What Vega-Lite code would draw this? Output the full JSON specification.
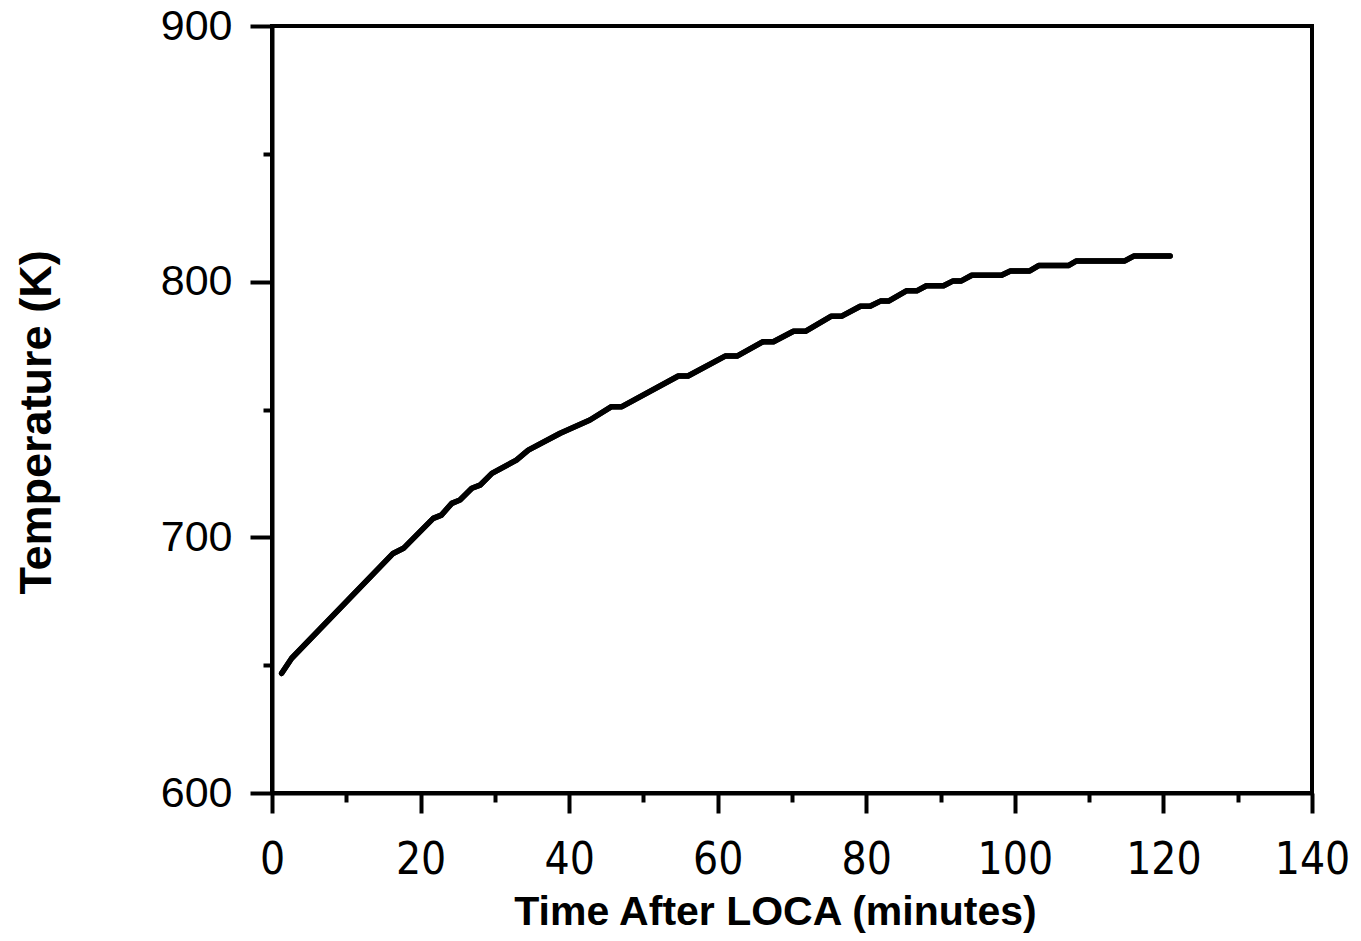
{
  "$schema": "https://vega.github.io/schema/vega-lite/v6.json",
  "autosize": "none",
  "width": 1040,
  "height": 767,
  "padding": {"left": 272, "top": 26, "right": 49, "bottom": 148},
  "background": "white",
  "config": {
    "view": {"stroke": "black", "strokeWidth": 4},
    "axis": {"grid": false, "domainColor": "black", "domainWidth": 4, "tickColor": "black", "tickWidth": 4, "labelColor": "black", "titleColor": "black"}
  },
  "data": {"values": [
    {"t": 1.3, "T": 646.8},
    {"t": 2.65, "T": 652.7},
    {"t": 16.3, "T": 693.7},
    {"t": 17.7, "T": 695.7},
    {"t": 21.7, "T": 707.4},
    {"t": 22.8, "T": 708.7},
    {"t": 24.2, "T": 713.3},
    {"t": 25.3, "T": 714.6},
    {"t": 26.9, "T": 719.2},
    {"t": 28.0, "T": 720.4},
    {"t": 29.6, "T": 725.0},
    {"t": 32.9, "T": 730.2},
    {"t": 34.5, "T": 734.1},
    {"t": 38.8, "T": 740.7},
    {"t": 42.8, "T": 745.9},
    {"t": 45.7, "T": 751.1},
    {"t": 47.1, "T": 751.1},
    {"t": 54.7, "T": 763.1},
    {"t": 56.0, "T": 763.1},
    {"t": 61.0, "T": 770.9},
    {"t": 62.6, "T": 770.9},
    {"t": 66.1, "T": 776.5},
    {"t": 67.5, "T": 776.5},
    {"t": 70.2, "T": 780.6},
    {"t": 71.8, "T": 780.6},
    {"t": 75.3, "T": 786.5},
    {"t": 76.7, "T": 786.5},
    {"t": 79.2, "T": 790.4},
    {"t": 80.5, "T": 790.4},
    {"t": 81.9, "T": 792.4},
    {"t": 83.0, "T": 792.4},
    {"t": 85.4, "T": 796.4},
    {"t": 86.8, "T": 796.4},
    {"t": 88.1, "T": 798.4},
    {"t": 90.4, "T": 798.4},
    {"t": 91.7, "T": 800.3},
    {"t": 92.8, "T": 800.3},
    {"t": 94.2, "T": 802.5},
    {"t": 98.2, "T": 802.5},
    {"t": 99.4, "T": 804.2},
    {"t": 102.0, "T": 804.2},
    {"t": 103.2, "T": 806.3},
    {"t": 107.2, "T": 806.3},
    {"t": 108.3, "T": 808.1},
    {"t": 114.8, "T": 808.1},
    {"t": 116.0, "T": 810.0},
    {"t": 120.9, "T": 810.0}
  ]},
  "resolve": {"axis": {"x": "independent", "y": "independent"}},
  "layer": [
    {
      "mark": {"type": "line", "color": "black", "strokeWidth": 5.5, "strokeJoin": "round", "strokeCap": "round"},
      "encoding": {
        "x": {"field": "t", "type": "quantitative", "scale": {"domain": [0, 140], "nice": false},
          "axis": {"orient": "bottom", "values": [0, 20, 40, 60, 80, 100, 120, 140], "tickSize": 20, "labelPadding": 25,
            "labelFont": "DejaVu Sans Condensed, Liberation Sans", "labelFontSize": 44, "labelBaseline": "top", "labelFlush": false,
            "title": "Time After LOCA (minutes)", "titleFont": "Liberation Sans", "titleFontSize": 41, "titleFontWeight": "bold", "titlePadding": 10, "titleX": 503}},
        "y": {"field": "T", "type": "quantitative", "scale": {"domain": [600, 900], "nice": false, "zero": false},
          "axis": {"orient": "left", "values": [600, 700, 800, 900], "tickSize": 22, "labelPadding": 18,
            "labelFont": "Liberation Sans", "labelFontSize": 43, "labelBaseline": "middle", "labelFlush": false,
            "title": "Temperature (K)", "titleFont": "Liberation Sans", "titleFontSize": 45, "titleFontWeight": "bold", "titlePadding": 101, "titleY": 396}}
      }
    },
    {
      "mark": {"type": "line", "color": "black", "strokeWidth": 5.5, "strokeJoin": "round", "strokeCap": "round"},
      "encoding": {
        "x": {"field": "t", "type": "quantitative", "scale": {"domain": [0, 140], "nice": false},
          "axis": {"orient": "bottom", "values": [10, 30, 50, 70, 90, 110, 130], "tickSize": 9, "labels": false, "domain": false, "title": null}},
        "y": {"field": "T", "type": "quantitative", "scale": {"domain": [600, 900], "nice": false, "zero": false},
          "axis": {"orient": "left", "values": [650, 750, 850], "tickSize": 9, "labels": false, "domain": false, "title": null}}
      }
    }
  ]
}
